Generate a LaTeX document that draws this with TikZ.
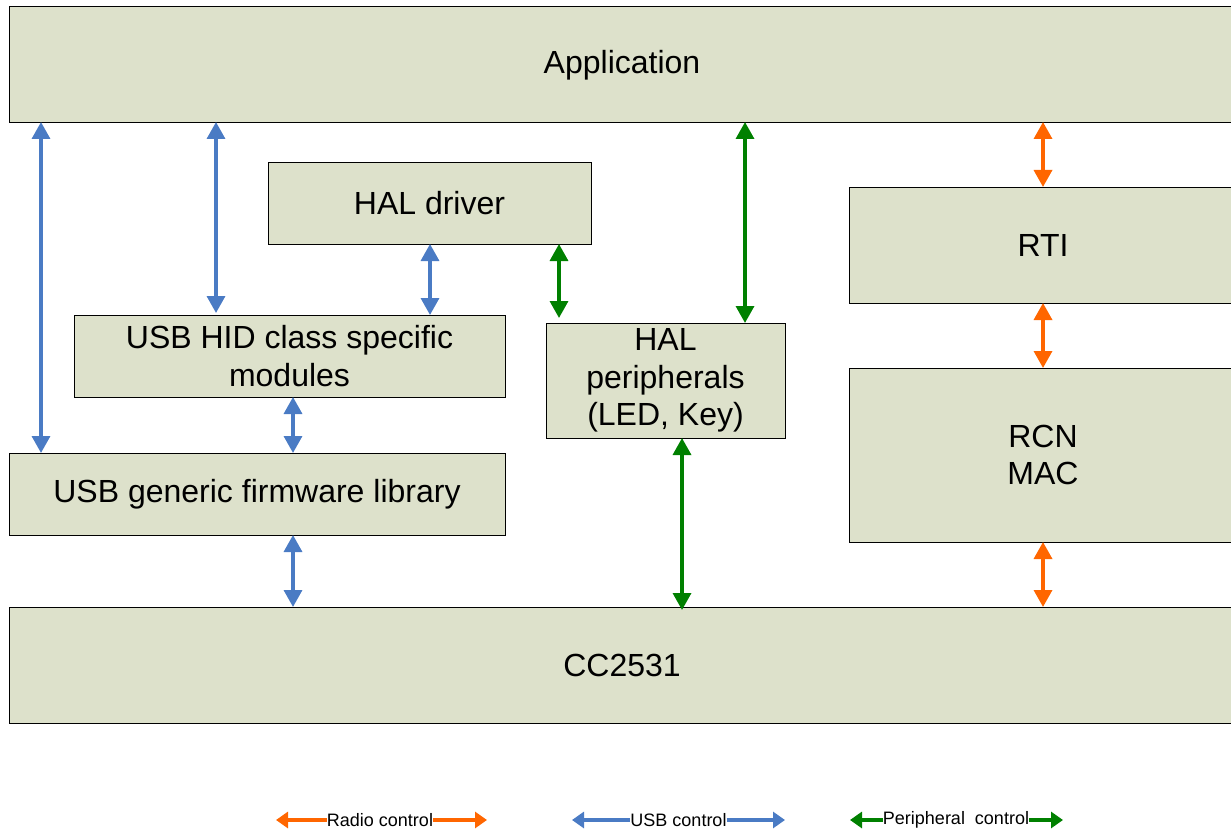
\documentclass[tikz,border=0pt]{standalone}
\usepackage{fontspec}
\setmainfont{Liberation Sans}
\usetikzlibrary{arrows.meta}
\definecolor{boxfill}{RGB}{221,225,203}
\definecolor{radio}{RGB}{255,102,0}
\definecolor{usb}{RGB}{74,123,196}
\definecolor{peri}{RGB}{0,128,0}
\tikzset{
  bigtxt/.style={font=\fontsize{32}{37.5}\selectfont},
  blk/.style={draw=black, line width=0.9pt, fill=boxfill, anchor=north west, inner sep=0pt, outer sep=0pt, align=center, bigtxt},
  conn/.style={line width=3.4pt, {Triangle[length=17pt,width=18pt]}-{Triangle[length=17pt,width=18pt]}},
  lgl/.style={line width=3.2pt, {Triangle[length=12pt,width=16pt]}-},
  lgr/.style={line width=3.2pt, -{Triangle[length=12pt,width=16pt]}},
  lgt/.style={inner sep=0pt, outer sep=0pt, font=\fontsize{18}{20}\selectfont}
}
\begin{document}
\begin{tikzpicture}[x=1pt,y=1pt]
\useasboundingbox (0,0) rectangle (1231,-829);
\clip (0,0) rectangle (1231,-829);
% boxes
\node[blk, minimum width=1240pt, minimum height=116pt] (app) at (9,-6) {};
\node[bigtxt] (apptxt) at (622,-65) {Application};
\node[blk, minimum width=323pt, minimum height=82pt] (hald) at (268,-162) {HAL driver};
\node[blk, minimum width=431pt, minimum height=82pt] (hid) at (74,-315) {USB HID class specific\\modules};
\node[blk, minimum width=239pt, minimum height=115pt] (halp) at (546,-323) {HAL\\peripherals\\(LED, Key)};
\node[blk, minimum width=496pt, minimum height=82pt] (gen) at (9,-453) {USB generic firmware library};
\node[blk, minimum width=400pt, minimum height=116pt] (rti) at (849,-187) {};
\node[bigtxt] (rtitxt) at (1043,-245) {RTI};
\node[blk, minimum width=400pt, minimum height=174pt] (rcn) at (849,-368) {};
\node[bigtxt, align=center] (rcntxt) at (1043,-455) {RCN\\MAC};
\node[blk, minimum width=1240pt, minimum height=116pt] (cc) at (9,-607) {};
\node[bigtxt] (cctxt) at (622,-665) {CC2531};
% USB connectors
\draw[conn, usb] (app.south -| 41,0) -- (gen.north -| 41,0);
\draw[conn, usb] (app.south -| 216,0) -- ([yshift=2pt]hid.north -| 216,0);
\draw[conn, usb] (hald.south -| 430,0) -- (hid.north -| 430,0);
\draw[conn, usb] (hid.south -| 293,0) -- (gen.north -| 293,0);
\draw[conn, usb] (gen.south -| 293,0) -- (cc.north -| 293,0);
% peripheral connectors
\draw[conn, peri] (hald.south -| 559,0) -- ([yshift=5pt]halp.north -| 559,0);
\draw[conn, peri] (app.south -| 745,0) -- (halp.north -| 745,0);
\draw[conn, peri] (halp.south -| 682,0) -- ([yshift=-3pt]cc.north -| 682,0);
% radio connectors
\draw[conn, radio] (app.south -| 1043,0) -- (rti.north -| 1043,0);
\draw[conn, radio] (rti.south -| 1043,0) -- (rcn.north -| 1043,0);
\draw[conn, radio] (rcn.south -| 1043,0) -- (cc.north -| 1043,0);
% legend
\node[lgt] (lr) at (380,-820) {Radio control};
\coordinate (lra) at (276,-820);
\coordinate (lrb) at (487,-820);
\draw[lgl, radio] (lra) -- (lr.west);
\draw[lgr, radio] (lr.east) -- (lrb);
\node[lgt] (lu) at (678.5,-820) {USB control};
\coordinate (lua) at (572,-820);
\coordinate (lub) at (785,-820);
\draw[lgl, usb] (lua) -- (lu.west);
\draw[lgr, usb] (lu.east) -- (lub);
\node[lgt] (lp) at (956,-820) {Peripheral\ \ control};
\coordinate (lpa) at (850,-820);
\coordinate (lpb) at (1063,-820);
\draw[lgl, peri] (lpa) -- (lp.west);
\draw[lgr, peri] (lp.east) -- (lpb);
\end{tikzpicture}
\end{document}
